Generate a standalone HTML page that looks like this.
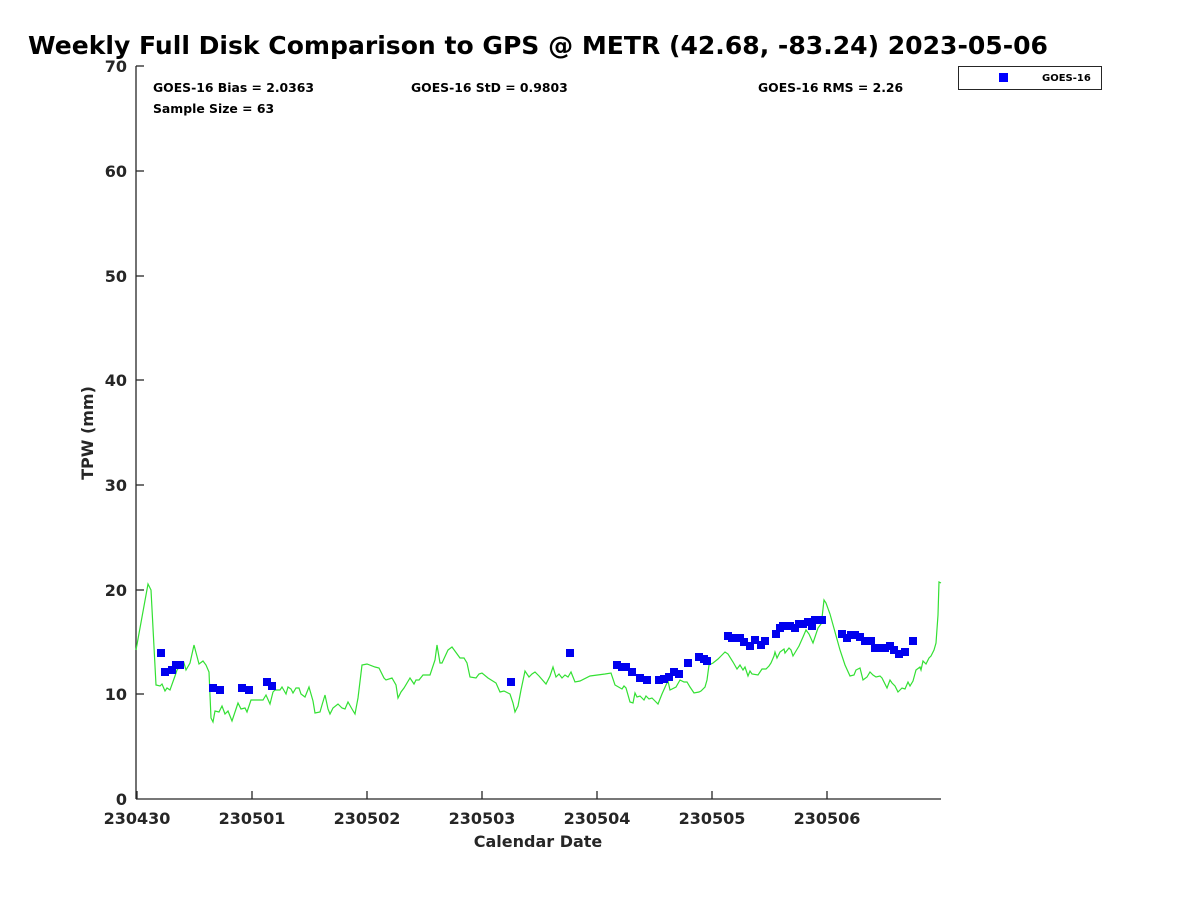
<!DOCTYPE html>
<html><head><style>body{margin:0;background:#fff}svg text{font-family:"DejaVu Sans","Liberation Sans",sans-serif;font-weight:bold}</style></head><body>
<svg width="1200" height="900" xmlns="http://www.w3.org/2000/svg">
<text x="28" y="54" font-size="24.5" textLength="1020" lengthAdjust="spacingAndGlyphs">Weekly Full Disk Comparison to GPS @ METR (42.68, -83.24) 2023-05-06</text>
<g stroke="#262626" stroke-width="1.3" fill="none">
<line x1="136" y1="66" x2="136" y2="799"/><line x1="136" y1="799" x2="941" y2="799"/>
<line x1="136" y1="66" x2="144" y2="66"/><line x1="136" y1="171" x2="144" y2="171"/><line x1="136" y1="276" x2="144" y2="276"/><line x1="136" y1="380" x2="144" y2="380"/><line x1="136" y1="485" x2="144" y2="485"/><line x1="136" y1="590" x2="144" y2="590"/><line x1="136" y1="694" x2="144" y2="694"/>
<line x1="137" y1="799" x2="137" y2="791"/><line x1="252" y1="799" x2="252" y2="791"/><line x1="367" y1="799" x2="367" y2="791"/><line x1="482" y1="799" x2="482" y2="791"/><line x1="597" y1="799" x2="597" y2="791"/><line x1="712" y1="799" x2="712" y2="791"/><line x1="827" y1="799" x2="827" y2="791"/>
</g>
<g font-size="16" fill="#262626" text-anchor="end">
<text x="127" y="72">70</text><text x="127" y="177">60</text><text x="127" y="282">50</text><text x="127" y="386">40</text><text x="127" y="491">30</text><text x="127" y="596">20</text><text x="127" y="700">10</text><text x="127" y="805">0</text>
</g>
<g font-size="16" fill="#262626" text-anchor="middle">
<text x="137" y="824">230430</text><text x="252" y="824">230501</text><text x="367" y="824">230502</text><text x="482" y="824">230503</text><text x="597" y="824">230504</text><text x="712" y="824">230505</text><text x="827" y="824">230506</text>
<text x="538" y="847">Calendar Date</text>
<text transform="translate(93,433) rotate(-90)">TPW (mm)</text>
</g>
<g font-size="12.4" fill="#000">
<text x="153" y="92">GOES-16 Bias = 2.0363</text><text x="411" y="92">GOES-16 StD = 0.9803</text><text x="758" y="92">GOES-16 RMS = 2.26</text><text x="153" y="113">Sample Size = 63</text>
</g>
<rect x="958.5" y="66.5" width="143" height="23" fill="#fff" stroke="#262626"/>
<rect x="999" y="73" width="9" height="9" fill="#0000ff"/>
<text x="1042" y="81" font-size="10">GOES-16</text>
<polyline fill="none" stroke="#33e033" stroke-width="1.2" points="136,650 148,584 151,590 156,685 160,686 162,684 165,691 167,688 170,690 175,676 177,670 180,666 182,667 184,663 186,670 190,663 194,645 199,664 203,661 206,665 209,672 211,718 213,722 215,711 219,712 222,706 225,714 228,711 232,721 236,709 238,703 241,709 245,708 247,712 251,700 258,700 263,700 266,695 270,704 273,692 275,690 280,690 282,687 286,694 288,687 291,689 293,693 296,688 299,688 301,694 305,697 309,687 313,701 315,713 320,712 322,705 325,695 328,709 330,714 333,708 338,704 342,708 345,709 348,702 352,709 355,714 358,698 362,665 367,664 375,667 379,668 384,678 386,680 392,678 396,685 398,698 401,692 404,688 410,678 414,684 416,680 419,680 423,675 430,675 435,660 437,645 440,663 442,663 448,650 452,647 460,658 464,658 467,663 470,677 476,678 479,674 482,673 488,678 496,683 500,692 504,691 510,694 513,703 515,712 518,706 521,690 525,671 529,677 532,674 535,672 539,676 546,684 550,676 553,667 556,677 559,674 562,678 565,675 568,677 571,672 575,682 580,681 590,676 605,674 611,673 615,685 622,689 624,686 626,688 630,702 633,703 635,693 637,697 640,696 644,700 646,696 649,699 652,698 655,701 658,704 662,694 666,685 668,681 670,690 676,687 680,680 684,682 687,682 690,687 694,693 699,692 701,691 705,687 707,680 709,665 713,663 718,659 721,656 725,652 728,654 733,662 737,669 740,665 743,670 745,667 748,676 750,671 752,674 758,675 762,669 766,669 769,666 771,663 774,656 775,652 777,658 780,652 784,649 785,653 789,648 791,650 793,656 796,651 799,646 803,637 806,630 809,634 813,643 815,637 818,628 821,624 822,618 824,600 826,603 830,614 835,632 840,650 845,665 850,676 854,675 856,670 860,668 863,680 867,677 870,672 873,675 876,677 880,676 882,678 885,684 887,688 890,680 892,683 895,686 898,692 902,688 905,689 908,682 910,686 913,681 916,670 920,667 921,670 923,661 926,664 929,658 931,656 934,650 936,643 938,615 939,582 941,583"/>
<g fill="#0000ee" transform="translate(-4,-4)">
<rect x="161" y="653" width="8" height="8"/><rect x="165" y="672" width="8" height="8"/><rect x="172" y="670" width="8" height="8"/><rect x="176" y="665" width="8" height="8"/><rect x="180" y="665" width="8" height="8"/><rect x="213" y="688" width="8" height="8"/><rect x="220" y="690" width="8" height="8"/><rect x="242" y="688" width="8" height="8"/><rect x="249" y="690" width="8" height="8"/><rect x="267" y="682" width="8" height="8"/><rect x="272" y="686" width="8" height="8"/>
<rect x="511" y="682" width="8" height="8"/><rect x="570" y="653" width="8" height="8"/><rect x="617" y="665" width="8" height="8"/><rect x="622" y="667" width="8" height="8"/><rect x="626" y="667" width="8" height="8"/><rect x="632" y="672" width="8" height="8"/><rect x="640" y="678" width="8" height="8"/><rect x="647" y="680" width="8" height="8"/><rect x="659" y="680" width="8" height="8"/><rect x="664" y="679" width="8" height="8"/><rect x="669" y="677" width="8" height="8"/><rect x="674" y="672" width="8" height="8"/><rect x="679" y="674" width="8" height="8"/>
<rect x="688" y="663" width="8" height="8"/><rect x="699" y="657" width="8" height="8"/><rect x="704" y="659" width="8" height="8"/><rect x="707" y="661" width="8" height="8"/><rect x="728" y="636" width="8" height="8"/><rect x="732" y="638" width="8" height="8"/><rect x="736" y="638" width="8" height="8"/><rect x="740" y="638" width="8" height="8"/><rect x="744" y="642" width="8" height="8"/><rect x="750" y="646" width="8" height="8"/><rect x="755" y="640" width="8" height="8"/><rect x="761" y="645" width="8" height="8"/><rect x="765" y="641" width="8" height="8"/><rect x="776" y="634" width="8" height="8"/><rect x="780" y="628" width="8" height="8"/><rect x="783" y="626" width="8" height="8"/><rect x="787" y="626" width="8" height="8"/><rect x="790" y="626" width="8" height="8"/><rect x="795" y="628" width="8" height="8"/><rect x="799" y="624" width="8" height="8"/><rect x="803" y="624" width="8" height="8"/><rect x="808" y="622" width="8" height="8"/><rect x="812" y="626" width="8" height="8"/><rect x="815" y="620" width="8" height="8"/><rect x="822" y="620" width="8" height="8"/><rect x="842" y="634" width="8" height="8"/><rect x="847" y="638" width="8" height="8"/><rect x="851" y="635" width="8" height="8"/><rect x="855" y="635" width="8" height="8"/><rect x="860" y="637" width="8" height="8"/><rect x="865" y="641" width="8" height="8"/><rect x="871" y="641" width="8" height="8"/><rect x="875" y="648" width="8" height="8"/><rect x="880" y="648" width="8" height="8"/><rect x="885" y="648" width="8" height="8"/><rect x="890" y="646" width="8" height="8"/><rect x="894" y="650" width="8" height="8"/><rect x="899" y="654" width="8" height="8"/><rect x="905" y="652" width="8" height="8"/><rect x="913" y="641" width="8" height="8"/>
</g>
</svg>
</body></html>
